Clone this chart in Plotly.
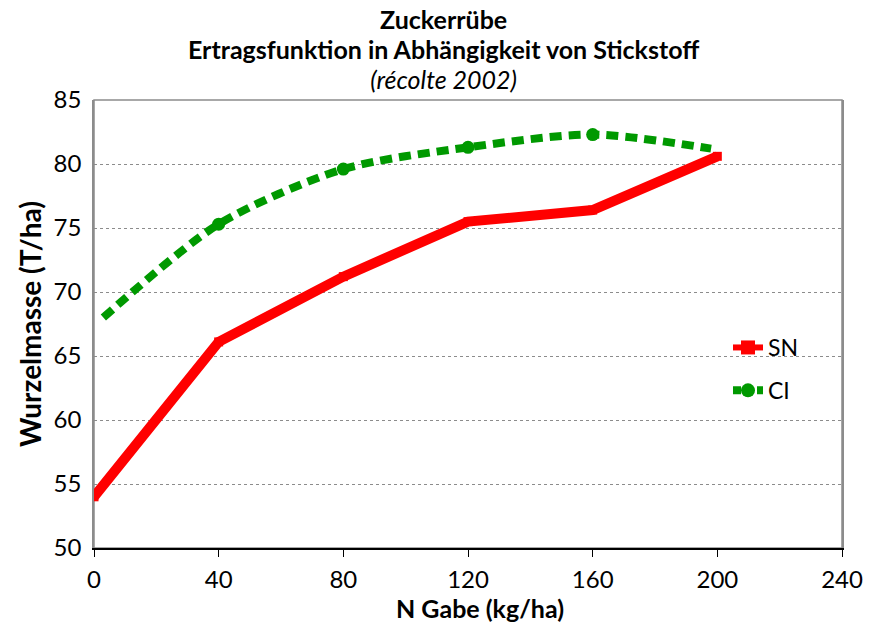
import plotly.graph_objects as go

# Nitrogen rates (kg/ha) and root yield (T/ha)
sn_n = [0, 40, 80, 120, 160, 200]
sn_yield = [54.0, 66.1, 71.2, 75.5, 76.4, 80.6]

ci_n = [3, 40, 80, 120, 160, 198]
ci_yield = [68.0, 75.3, 79.6, 81.3, 82.3, 81.2]

x_ticks = [0, 40, 80, 120, 160, 200, 240]
y_ticks = [50, 55, 60, 65, 70, 75, 80, 85]

title_lines = ["<b>Zuckerrübe</b>",
               "<b>Ertragsfunktion in Abhängigkeit von Stickstoff</b>",
               "<i>(récolte 2002)</i>"]

FONT = "Lato, 'Open Sans', sans-serif"
GREEN = "#009900"
RED = "#FF0000"
GRAY = "#8c8c8c"

W, H = 887, 623
M_L, M_R, M_T, M_B = 94, 45, 100, 75
PLOT_W = W - M_L - M_R
PLOT_H = H - M_T - M_B

fig = go.Figure()

fig.add_trace(go.Scatter(
    x=sn_n, y=sn_yield, name="SN", mode="lines+markers",
    line=dict(color=RED, width=10),
    marker=dict(symbol="square", size=9, color=RED),
    showlegend=False,
))

fig.add_trace(go.Scatter(
    x=ci_n, y=ci_yield, name="CI", mode="lines",
    line=dict(color=GREEN, width=8, dash="12px,7px", shape="spline", smoothing=0.8),
    showlegend=False,
))
# circle markers on the interior measurement points
fig.add_trace(go.Scatter(
    x=ci_n[1:-1], y=ci_yield[1:-1], mode="markers", showlegend=False,
    marker=dict(symbol="circle", size=13, color=GREEN),
))

# legend entries
fig.add_trace(go.Scatter(
    x=[None], y=[None], name="SN", mode="lines+markers", legendgroup="sn",
    line=dict(color=RED, width=6),
    marker=dict(symbol="square", size=14, color=RED),
))
fig.add_trace(go.Scatter(
    x=[None], y=[None], name="CI", mode="lines+markers", legendgroup="ci",
    line=dict(color=GREEN, width=8, dash="8px,4px"),
    marker=dict(symbol="circle", size=14, color=GREEN),
))

def paper_x(px):
    return (px - M_L) / PLOT_W

def paper_y(py):
    return 1 + (M_T - py) / PLOT_H

# three-line title as one text block
title_html = "<br>".join(
    f'<span style="font-size:{sz}px">{t}</span>'
    for t, sz in zip(title_lines, [25, 25, 25])
)
fig.add_annotation(
    text=title_html, xref="paper", yref="paper",
    x=paper_x(443), y=paper_y(49), xanchor="center", yanchor="middle",
    showarrow=False, align="center",
    font=dict(family=FONT, size=23, color="black"),
)

# x-axis title
fig.add_annotation(
    text="<b>N Gabe (kg/ha)</b>", xref="paper", yref="paper",
    x=paper_x(480), y=paper_y(608), xanchor="center", yanchor="middle",
    showarrow=False, font=dict(family=FONT, size=25, color="black"),
)

fig.update_layout(
    width=W, height=H,
    margin=dict(l=M_L, r=M_R, t=M_T, b=M_B),
    paper_bgcolor="white", plot_bgcolor="white",
    font=dict(family=FONT, size=22, color="black"),
    legend=dict(
        x=paper_x(728), y=paper_y(326), xanchor="left", yanchor="top",
        bgcolor="rgba(0,0,0,0)", font=dict(size=23),
        traceorder="grouped", tracegroupgap=10,
    ),
    showlegend=True,
)

fig.update_xaxes(
    range=[0, 240], tickvals=x_ticks, ticktext=[str(v) for v in x_ticks],
    showgrid=False, zeroline=False,
    showline=True, linecolor="black", linewidth=1.5, mirror=False,
    ticks="outside", ticklen=7, tickcolor="black",
    tickfont=dict(size=24), ticklabelstandoff=2,
)
fig.update_yaxes(
    range=[50, 85], tickvals=y_ticks,
    showgrid=True, gridcolor=GRAY, griddash="dot", gridwidth=1,
    zeroline=False, showline=True, linecolor=GRAY, linewidth=1.5, mirror=True,
    ticks="", tickfont=dict(size=24), ticklabelstandoff=6,
    title=dict(text="<b>Wurzelmasse (T/ha)</b>", font=dict(size=28), standoff=4),
)
# gray border along top and right of the plot area
fig.add_shape(type="rect", xref="paper", yref="paper", x0=0, y0=0, x1=1, y1=1,
              line=dict(color=GRAY, width=1.5), layer="below")

fig.write_html("out.html")
